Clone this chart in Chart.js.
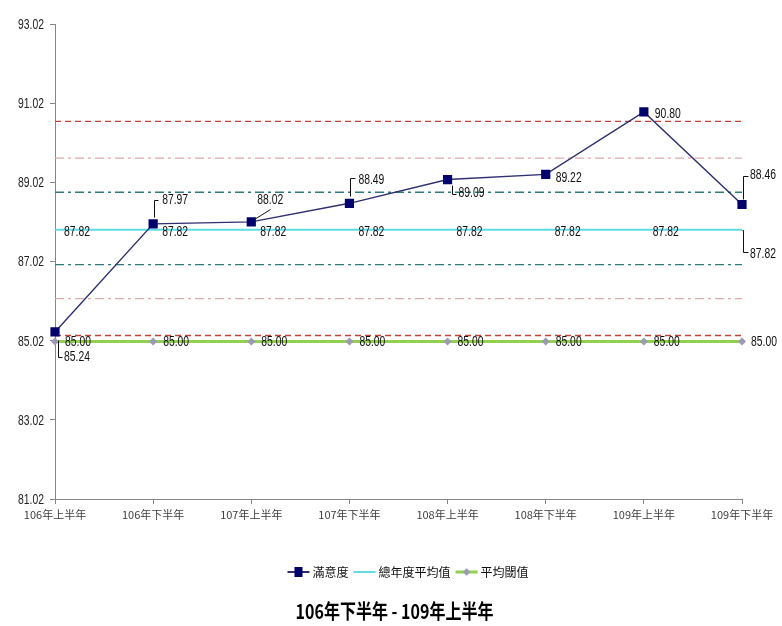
<!DOCTYPE html>
<html><head><meta charset="utf-8">
<script src="https://cdn.jsdelivr.net/npm/chart.js@4/dist/chart.umd.min.js"></script>
<style>html,body{margin:0;padding:0;background:#fff}#wrap{width:782px;height:626px}</style>
</head><body><div id="wrap"><canvas id="c" width="782" height="626"></canvas></div>
<script>
const categories = ['106年上半年','106年下半年','107年上半年','107年下半年','108年上半年','108年下半年','109年上半年','109年下半年'];
const satisfaction = [85.24, 87.97, 88.02, 88.49, 89.09, 89.22, 90.80, 88.46];
const overallAverage = [87.82, 87.82, 87.82, 87.82, 87.82, 87.82, 87.82, 87.82];
const threshold = [85.00, 85.00, 85.00, 85.00, 85.00, 85.00, 85.00, 85.00];
const yTicks = [81.02, 83.02, 85.02, 87.02, 89.02, 91.02, 93.02];
const refRedDashed = [90.56, 85.15];
const refPinkDashDot = [89.63, 86.08];
const refTealDashDot = [88.77, 86.94];
const seriesNames = ['滿意度', '總年度平均值', '平均閾值'];
const bottomTitle = '106年下半年 - 109年上半年';

const NUM_FONT = '"Liberation Sans", Arial, sans-serif';
const CJK_FONT = '"Noto Sans CJK TC", "Noto Sans CJK SC", sans-serif';
const NUM_SQUEEZE = 0.74;

const C_NAVY = '#00006e', C_NAVYLINE = '#2e2e70', C_CYAN = '#5fdde3', C_GREEN = '#92d050', C_GRAY = '#9a9ab4';

function refDataset(v, color, dash) {
  return { label: '_ref', data: categories.map(() => v), borderColor: color, borderWidth: 1.3,
    borderDash: dash, pointRadius: 0, pointHoverRadius: 0, fill: false, tension: 0 };
}

const datasets = [
  { label: seriesNames[0], data: satisfaction, borderColor: C_NAVYLINE, borderWidth: 1.4,
    pointStyle: 'rect', pointRadius: 6.5, pointBackgroundColor: C_NAVY, pointBorderColor: C_NAVY, pointBorderWidth: 0, tension: 0 },
  { label: seriesNames[1], data: overallAverage, borderColor: C_CYAN, borderWidth: 2, pointRadius: 0, tension: 0 },
  { label: seriesNames[2], data: threshold, borderColor: C_GREEN, borderWidth: 3,
    pointStyle: 'rectRot', pointRadius: 4, pointBackgroundColor: C_GRAY, pointBorderColor: C_GRAY, pointBorderWidth: 0, tension: 0 },
  refDataset(refRedDashed[0], '#c2413a', [6, 4]),
  refDataset(refRedDashed[1], '#c2413a', [6, 4]),
  refDataset(refPinkDashDot[0], '#ddaaaa', [9, 4, 3, 4]),
  refDataset(refPinkDashDot[1], '#ddaaaa', [9, 4, 3, 4]),
  refDataset(refTealDashDot[0], '#2f7b7b', [9, 4, 3, 4]),
  refDataset(refTealDashDot[1], '#2f7b7b', [9, 4, 3, 4])
];

// label placement relative to point: dx (text left), dy (text middle), optional leader polyline
const placements = [
  [
    { dx: 9, dy: 25, lead: [[3, 8], [3, 25], [7, 25]] },
    { dx: 9, dy: -24, lead: [[1, -7], [1, -24], [5, -24]] },
    { dx: 6, dy: -22, lead: [[3, -3], [19, -13]] },
    { dx: 9, dy: -23, lead: [[1, -7], [1, -25], [6, -25]] },
    { dx: 11, dy: 14, lead: [[4, 5], [4, 14], [8, 14]] },
    { dx: 10, dy: 4 },
    { dx: 11, dy: 2 },
    { dx: 8, dy: -29, lead: [[1, -6], [1, -29], [6, -29]] }
  ],
  [
    { dx: 9, dy: 2 }, { dx: 9, dy: 2 }, { dx: 9, dy: 2 }, { dx: 9, dy: 2 },
    { dx: 9, dy: 2 }, { dx: 9, dy: 2 }, { dx: 9, dy: 2 },
    { dx: 8, dy: 24, lead: [[0, 0], [1, 0], [1, 22], [6, 22]] }
  ],
  [
    { dx: 10, dy: 1 }, { dx: 10, dy: 1 }, { dx: 10, dy: 1 }, { dx: 10, dy: 1 },
    { dx: 10, dy: 1 }, { dx: 10, dy: 1 }, { dx: 10, dy: 1 }, { dx: 9, dy: 1 }
  ]
];

function squeezedText(ctx, text, x, y, align) {
  ctx.save();
  ctx.translate(x, y);
  ctx.scale(NUM_SQUEEZE, 1);
  ctx.textAlign = align;
  ctx.fillText(text, 0, 0);
  ctx.restore();
}

const labelPlugin = {
  id: 'valueLabels',
  afterLayout(chart) {
    if (chart.legend) { chart.legend.left += 11; chart.legend.right += 11; }
  },
  afterDatasetsDraw(chart) {
    const ctx = chart.ctx;
    ctx.save();
    ctx.font = '14px ' + NUM_FONT;
    ctx.fillStyle = '#111';
    ctx.strokeStyle = '#111';
    ctx.lineWidth = 1;
    ctx.textBaseline = 'middle';
    for (let di = 0; di < 3; di++) {
      const meta = chart.getDatasetMeta(di);
      meta.data.forEach((pt, i) => {
        const v = chart.data.datasets[di].data[i];
        const p = placements[di][i];
        if (p.lead) {
          ctx.beginPath();
          p.lead.forEach((q, k) => {
            const x = Math.round(pt.x + q[0]) + 0.5, y = Math.round(pt.y + q[1]) + 0.5;
            if (k === 0) ctx.moveTo(x, y); else ctx.lineTo(x, y);
          });
          ctx.stroke();
        }
        squeezedText(ctx, v.toFixed(2), pt.x + p.dx, pt.y + p.dy, 'left');
      });
    }
    // y-axis tick labels
    const ys = chart.scales.y;
    ctx.fillStyle = '#222';
    yTicks.forEach(v => squeezedText(ctx, v.toFixed(2), ys.left + 44, ys.getPixelForValue(v) + 1, 'right'));
    // bottom title
    ctx.font = 'bold 20px ' + CJK_FONT;
    ctx.fillStyle = '#000';
    ctx.save();
    ctx.translate((chart.chartArea.left + chart.chartArea.right) / 2 - 4, 611);
    ctx.scale(0.8, 1);
    ctx.textAlign = 'center';
    ctx.fillText(bottomTitle, 0, 0);
    ctx.restore();
    ctx.restore();
  }
};

function legendIcon(kind) {
  const c = document.createElement('canvas');
  c.width = 24; c.height = 12;
  const g = c.getContext('2d');
  g.lineWidth = kind === 2 ? 3 : 2;
  g.strokeStyle = kind === 0 ? C_NAVYLINE : kind === 1 ? C_CYAN : C_GREEN;
  g.beginPath(); g.moveTo(1, 6); g.lineTo(23, 6); g.stroke();
  if (kind === 0) { g.fillStyle = C_NAVY; g.fillRect(8, 1, 8, 10); }
  if (kind === 2) { g.fillStyle = C_GRAY; g.beginPath(); g.moveTo(12, 2); g.lineTo(15.5, 6); g.lineTo(12, 10); g.lineTo(8.5, 6); g.closePath(); g.fill(); }
  return c;
}
const icons = [legendIcon(0), legendIcon(1), legendIcon(2)];

new Chart(document.getElementById('c'), {
  type: 'line',
  data: { labels: categories, datasets },
  options: {
    responsive: false,
    devicePixelRatio: 1,
    animation: false,
    layout: { padding: { left: 0, right: 40, top: 24, bottom: 38 } },
    scales: {
      x: {
        offset: false,
        grid: { drawOnChartArea: false, drawTicks: true, tickLength: 5, color: '#868686' },
        border: { color: '#868686', width: 1 },
        ticks: { color: '#404040', font: { family: CJK_FONT, size: 11 }, padding: 4, maxRotation: 0, autoSkip: false },
        afterFit(s) { s.height = 59; }
      },
      y: {
        min: yTicks[0], max: yTicks[yTicks.length - 1],
        afterBuildTicks(s) { s.ticks = yTicks.map(v => ({ value: v })); },
        grid: { drawOnChartArea: false, drawTicks: true, tickLength: 5, color: '#868686' },
        border: { color: '#868686', width: 1 },
        ticks: { color: 'rgba(0,0,0,0)', font: { family: NUM_FONT, size: 12 }, padding: 6 },
        afterFit(s) { s.width = 55; }
      }
    },
    plugins: {
      tooltip: { enabled: false },
      title: { display: false },
      legend: {
        position: 'bottom',
        fullSize: false,
        labels: {
          usePointStyle: true, pointStyleWidth: 16, padding: 8, color: '#111',
          font: { family: CJK_FONT, size: 12 },
          generateLabels: (chart) => seriesNames.map((t, i) => ({
            text: t, pointStyle: icons[i], datasetIndex: i, fontColor: '#111',
            fillStyle: 'transparent', strokeStyle: 'transparent', lineWidth: 0, hidden: false
          }))
        }
      }
    }
  },
  plugins: [labelPlugin]
});
</script>
</body></html>
